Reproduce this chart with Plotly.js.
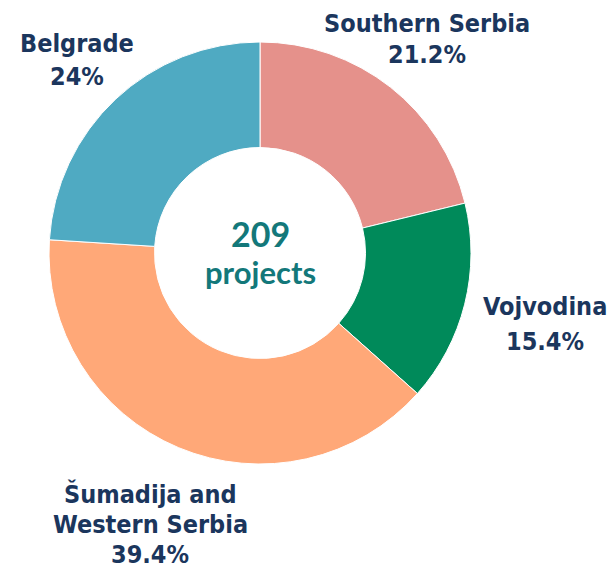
<!DOCTYPE html>
<html>
<head>
<meta charset="utf-8">
<script src="https://cdn.plot.ly/plotly-3.0.1.min.js"></script>
<style>html,body{margin:0;padding:0;background:#fff;}#chart{width:613px;height:569px;}</style>
</head>
<body>
<div id="chart"></div>
<script>
const regions = ["Southern Serbia", "Vojvodina", "Šumadija and Western Serbia", "Belgrade"];
const labelLines = [["Southern Serbia"], ["Vojvodina"], ["Šumadija and", "Western Serbia"], ["Belgrade"]];
const shares = [21.2, 15.4, 39.4, 24];
const shareText = ["21.2%", "15.4%", "39.4%", "24%"];
const colors = ["#E5918B", "#008A5A", "#FFA878", "#4FAAC2"];
const totalProjects = 209;

const W = 613, H = 569;
// [center x, first line y, line gap] in pixels
const labelPos = [[427, 23, 32], [545, 306, 35], [150, 494, 30], [77, 43, 33]];

const annotations = [];
regions.forEach((r, i) => {
  const lines = labelLines[i].concat([shareText[i]]);
  lines.forEach((t, k) => {
    annotations.push({
      text: "<b>" + t + "</b>",
      x: labelPos[i][0] / W,
      y: 1 - (labelPos[i][1] + k * labelPos[i][2]) / H,
      xref: "paper", yref: "paper",
      xanchor: "center", yanchor: "middle",
      showarrow: false,
      font: {family: "DejaVu Sans Condensed, DejaVu Sans, sans-serif", size: 25, color: "#1B365D"}
    });
  });
});
annotations.push({
  text: "<b>" + totalProjects + "</b>",
  x: 260 / W, y: 1 - 233 / H, xref: "paper", yref: "paper",
  xanchor: "center", yanchor: "middle", showarrow: false,
  font: {family: "Lato, sans-serif", size: 34, weight: 900, color: "#13787A"}
});
annotations.push({
  text: "<b>projects</b>",
  x: 260 / W, y: 1 - 272 / H, xref: "paper", yref: "paper",
  xanchor: "center", yanchor: "middle", showarrow: false,
  font: {family: "Lato, sans-serif", size: 31, weight: 900, color: "#13787A"}
});

const cx = 260, cy = 253, R = 211;
const data = [{
  type: "pie",
  labels: regions,
  values: shares,
  sort: false,
  direction: "clockwise",
  rotation: 0,
  hole: 0.5,
  textinfo: "none",
  hoverinfo: "label+percent",
  marker: {colors: colors, line: {color: "#ffffff", width: 1}},
  domain: {x: [(cx - R) / W, (cx + R) / W], y: [(H - cy - R) / H, (H - cy + R) / H]}
}];

const layout = {
  width: W, height: H,
  margin: {l: 0, r: 0, t: 0, b: 0},
  showlegend: false,
  paper_bgcolor: "#ffffff",
  annotations: annotations
};

Plotly.newPlot("chart", data, layout, {displayModeBar: false, staticPlot: true});
</script>
</body>
</html>
